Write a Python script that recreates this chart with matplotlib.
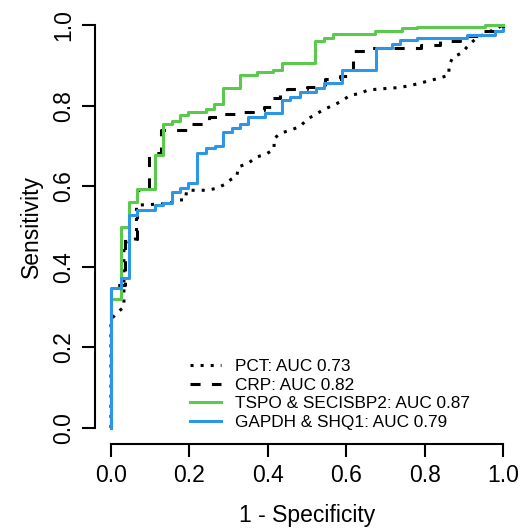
import numpy as np
import matplotlib.pyplot as plt

plt.rcParams['font.family'] = ['Liberation Sans', 'DejaVu Sans']

# ROC curves (1 - specificity, sensitivity)
pct_fpr = [0, 0, 0.02, 0.033, 0.033, 0.065, 0.065, 0.15, 0.163, 0.19,
           0.193, 0.245, 0.27, 0.291, 0.306, 0.321, 0.325, 0.35, 0.37, 0.396,
           0.416, 0.416, 0.431, 0.457, 0.482, 0.50, 0.523, 0.544, 0.567, 0.588,
           0.61, 0.635, 0.656, 0.682, 0.707, 0.737, 0.763, 0.786, 0.812, 0.837,
           0.862, 0.862, 0.872, 0.895, 0.914, 0.933, 0.957, 0.98, 1.0]
pct_tpr = [0, 0.27, 0.29, 0.30, 0.46, 0.47, 0.553, 0.557, 0.566, 0.566,
           0.59, 0.59, 0.595, 0.605, 0.617, 0.625, 0.648, 0.657, 0.672, 0.68,
           0.692, 0.718, 0.731, 0.739, 0.748, 0.766, 0.779, 0.791, 0.801, 0.811,
           0.826, 0.83, 0.839, 0.841, 0.843, 0.845, 0.85, 0.855, 0.862, 0.868,
           0.876, 0.90, 0.92, 0.931, 0.952, 0.968, 0.98, 0.99, 1.0]

# step curves: x where the jump happens, sensitivity after the jump
crp_fpr = [0, 0, 0.036, 0.066, 0.096, 0.127, 0.20, 0.25, 0.28, 0.32, 0.37, 0.39,
           0.41, 0.43, 0.45, 0.50, 0.545, 0.585, 0.618, 0.655, 0.79, 0.84, 0.89,
           0.95, 1.0]
crp_tpr = [0, 0.355, 0.47, 0.59, 0.682, 0.74, 0.754, 0.772, 0.779, 0.785, 0.79,
           0.797, 0.82, 0.829, 0.841, 0.847, 0.865, 0.874, 0.935, 0.942, 0.95,
           0.96, 0.972, 0.985, 1.0]

tspo_fpr = [0, 0, 0.025, 0.046, 0.066, 0.112, 0.133, 0.155, 0.176, 0.197, 0.242,
            0.263, 0.285, 0.328, 0.372, 0.414, 0.436, 0.521, 0.544, 0.567, 0.673,
            0.742, 0.78, 0.954, 1.0]
tspo_tpr = [0, 0.32, 0.50, 0.56, 0.592, 0.677, 0.754, 0.762, 0.777, 0.784, 0.792,
            0.803, 0.845, 0.876, 0.883, 0.889, 0.906, 0.96, 0.969, 0.979, 0.985,
            0.992, 0.996, 1.0, 1.0]

gapdh_fpr = [0, 0, 0.025, 0.046, 0.067, 0.112, 0.133, 0.155, 0.176, 0.197, 0.219,
             0.243, 0.265, 0.286, 0.308, 0.329, 0.35, 0.393, 0.435, 0.457, 0.482,
             0.523, 0.544, 0.588, 0.676, 0.716, 0.737, 0.78, 0.907, 0.98, 1.0]
gapdh_tpr = [0, 0.347, 0.372, 0.528, 0.541, 0.553, 0.559, 0.585, 0.595, 0.609,
             0.682, 0.694, 0.70, 0.735, 0.744, 0.754, 0.772, 0.782, 0.814, 0.822,
             0.834, 0.843, 0.855, 0.888, 0.942, 0.953, 0.963, 0.967, 0.975, 0.985,
             0.99]

labels = ['PCT: AUC 0.73', 'CRP: AUC 0.82',
          'TSPO & SECISBP2: AUC 0.87', 'GAPDH & SHQ1: AUC 0.79']
green = '#5BC94B'
blue = '#2D96E6'

fig = plt.figure(figsize=(5.31, 5.32), dpi=100)
ax = fig.add_axes([0.1795, 0.1652, 0.7974, 0.8180])

lw = 2.2
ax.plot(pct_fpr, pct_tpr, color='black', lw=lw, linestyle=(0, (1, 2.3)), label=labels[0])
ax.step(crp_fpr, crp_tpr, where='post', color='black', lw=lw,
        linestyle=(0, (3.3, 3.7)), label=labels[1])
ax.step(tspo_fpr, tspo_tpr, where='post', color=green, lw=lw, label=labels[2])
ax.step(gapdh_fpr, gapdh_tpr, where='post', color=blue, lw=lw, label=labels[3])

ax.set_xlim(-0.04, 1.04)
ax.set_ylim(-0.04, 1.04)
ticks = np.arange(0, 1.01, 0.2)
ax.set_xticks(ticks)
ax.set_yticks(ticks)
ax.set_xticklabels(['%.1f' % t for t in ticks])
ax.set_yticklabels(['%.1f' % t for t in ticks], rotation=90, va='center')
for s in ['top', 'right']:
    ax.spines[s].set_visible(False)
for s in ['left', 'bottom']:
    ax.spines[s].set_bounds(0, 1)
    ax.spines[s].set_linewidth(1.5)
ax.tick_params(length=9.4, width=1.5, pad=5, labelsize=16.5)
ax.set_xlabel('1 - Specificity', fontsize=16.5, labelpad=12)
ax.set_ylabel('Sensitivity', fontsize=16.5, labelpad=7)

ax.legend(loc='lower left', bbox_to_anchor=(0.3578, 0.1925),
          bbox_transform=fig.transFigure, frameon=False, fontsize=12.4,
          handlelength=1.8, handletextpad=0.8, labelspacing=0.2,
          borderpad=0, borderaxespad=0)

fig.savefig('out.png', dpi=100)
